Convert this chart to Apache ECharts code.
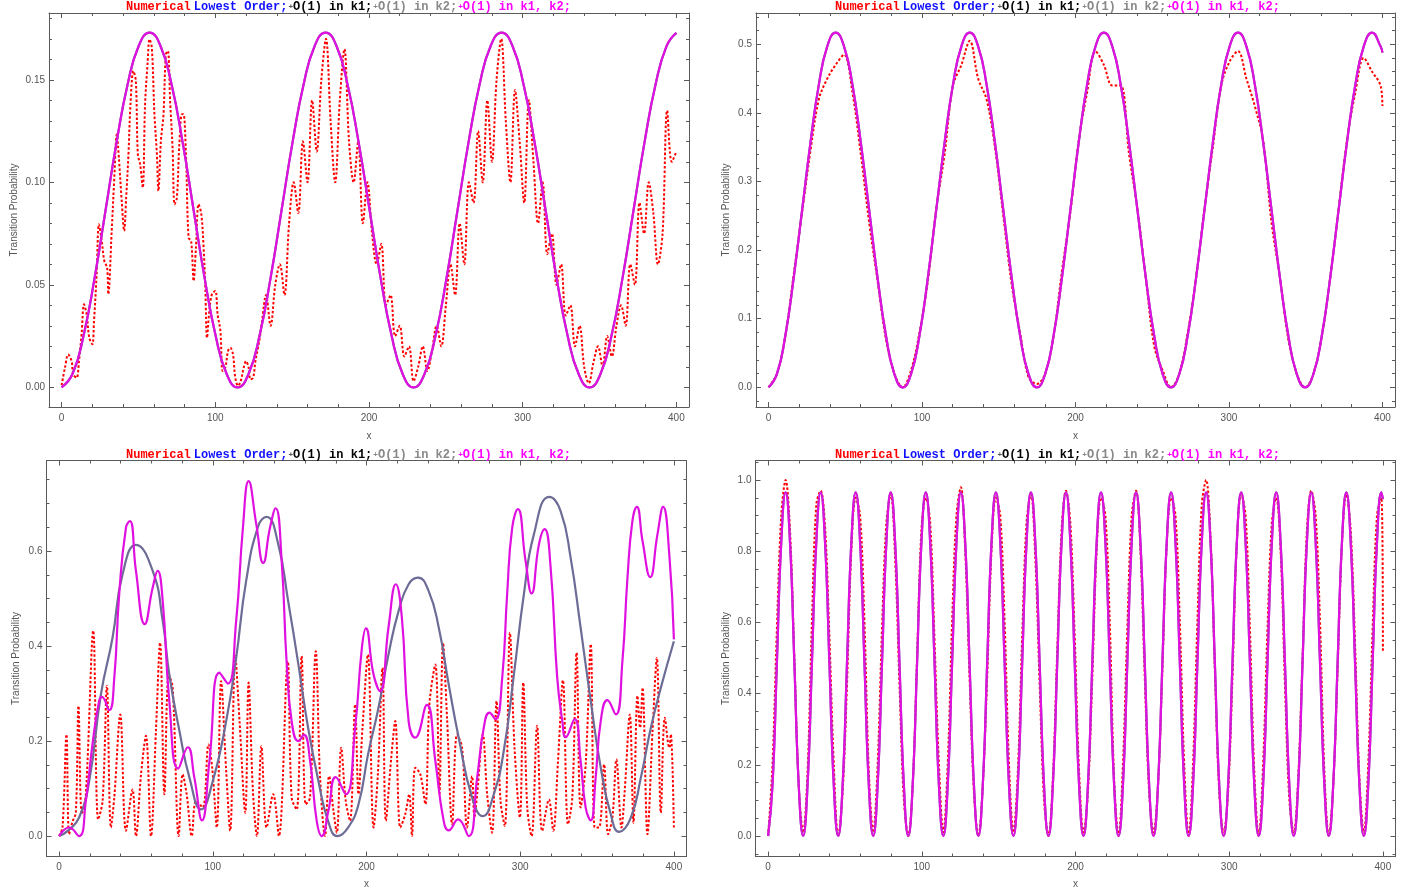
<!DOCTYPE html>
<html>
<head>
<meta charset="utf-8">
<title>Transition Probability</title>
<script src="https://cdn.jsdelivr.net/npm/echarts@6.0.0/dist/echarts.min.js"></script>
</head>
<body style="margin:0; background:#fff">
<div id="main" style="width:1409px; height:896px"></div>
<script>
// ---------- tick values ----------
const xMajor = [0, 100, 200, 300, 400];
const xMinor = [20, 40, 60, 80, 120, 140, 160, 180, 220, 240, 260, 280, 320, 340, 360, 380];
const p1YMajor = [0, 0.05, 0.1, 0.15];
const p1YMinor = [0.01, 0.02, 0.03, 0.04, 0.06, 0.07, 0.08, 0.09, 0.11, 0.12, 0.13, 0.14, 0.16, 0.17, 0.18];
const p2YMajor = [0, 0.1, 0.2, 0.3, 0.4, 0.5];
const p2YMinor = [-0.02, 0.02, 0.04, 0.06, 0.08, 0.12, 0.14, 0.16, 0.18, 0.22, 0.24, 0.26, 0.28, 0.32, 0.34, 0.36, 0.38, 0.42, 0.44, 0.46, 0.48, 0.52, 0.54];
const p3YMajor = [0, 0.2, 0.4, 0.6];
const p3YMinor = [0.05, 0.1, 0.15, 0.25, 0.3, 0.35, 0.45, 0.5, 0.55, 0.65, 0.7, 0.75];
const p4YMajor = [0, 0.2, 0.4, 0.6, 0.8, 1.0];
const p4YMinor = [-0.05, 0.05, 0.1, 0.15, 0.25, 0.3, 0.35, 0.45, 0.5, 0.55, 0.65, 0.7, 0.75, 0.85, 0.9, 0.95, 1.05];

// ---------- panel 1 (top left) ----------
const p1X = [0, 7.16, 14.31, 21.47, 28.63, 35.78, 42.94, 50.09, 57.25, 64.41, 71.56, 78.72, 85.88, 93.03, 100.19, 107.34,
  114.5, 121.66, 128.81, 135.97, 143.13, 150.28, 157.44, 164.59, 171.75, 178.91, 186.06, 193.22, 200.38, 207.53, 214.69, 221.84,
  229, 236.16, 243.31, 250.47, 257.63, 264.78, 271.94, 279.09, 286.25, 293.41, 300.56, 307.72, 314.88, 322.03, 329.19, 336.34,
  343.5, 350.66, 357.81, 364.97, 372.13, 379.28, 386.44, 393.59, 400];
const p1Analytic = [0, .0066, .0253, .0534, .0865, .1196, .1477, .1664, .173, .1664, .1477, .1196, .0865, .0534, .0253, .0066,
  0, .0066, .0253, .0534, .0865, .1196, .1477, .1664, .173, .1664, .1477, .1196, .0865, .0534, .0253, .0066,
  0, .0066, .0253, .0534, .0865, .1196, .1477, .1664, .173, .1664, .1477, .1196, .0865, .0534, .0253, .0066,
  0, .0066, .0253, .0534, .0865, .1196, .1477, .1664, .1729];
const p1Numerical = [[0,0.001],[2.2,0.0096],[4.3,0.016],[6.5,0.0128],[7.6,0.0063],[9.8,0.0047],[11.3,0.0128],[13,0.0259],
  [14.6,0.0405],[16.3,0.0356],[18,0.0242],[20,0.021],[21.1,0.0324],[22.8,0.0551],[24.3,0.0795],[26.1,0.0714],[27.8,0.0616],
  [29.6,0.0584],[30.4,0.0454],[32.6,0.0763],[34.3,0.1023],[35.9,0.1234],[37.4,0.1104],[39.1,0.0909],[40.7,0.0763],[42,0.0925],
  [43.5,0.1137],[44.8,0.138],[46.7,0.1543],[48.3,0.1494],[49.6,0.1137],[51.1,0.1088],[52.8,0.0974],[54.3,0.138],[55.9,0.1576],
  [57.2,0.1698],[58.7,0.1657],[60.4,0.1332],[62,0.1137],[63,0.0958],[64.6,0.1202],[66.3,0.1332],[67.8,0.1624],[69.1,0.1641],
  [70.7,0.138],[72.2,0.1169],[73.5,0.0893],[75,0.0925],[76.5,0.1169],[78.3,0.1332],[79.3,0.1332],[80.9,0.1137],[82.6,0.073],
  [84.3,0.0714],[85.9,0.0519],[87.4,0.0681],[89.1,0.0893],[90.9,0.0844],[92.4,0.0681],[93.5,0.0486],[94.6,0.0242],[96.1,0.0372],
  [97.8,0.0454],[100,0.047],[101.5,0.0356],[103.3,0.0275],[104.8,0.008],[106.5,0.0096],[108.3,0.0177],[109.8,0.0193],[111.5,0.0161],
  [113,0.0047],[114.8,0.0007],[116.5,0.003],[118.5,0.0096],[120,0.0128],[121.7,0.0096],[122.8,0.0039],[124.6,0.0047],[126.1,0.0128],
  [127.8,0.0193],[129.3,0.0259],[130.4,0.0324],[133,0.045],[136,0.03],[139,0.05],[142,0.06],[145,0.045],[148,0.08],[151,0.1],
  [154,0.085],[157,0.12],[160,0.1],[163,0.14],[166,0.115],[169,0.15],[172,0.17],[175,0.13],[178,0.1],[181,0.14],[184,0.165],
  [187,0.12],[190,0.1],[193,0.12],[196,0.08],[199,0.1],[202,0.075],[205,0.06],[208,0.07],[211,0.04],[214,0.045],[217,0.025],
  [220,0.03],[223,0.015],[226,0.02],[229,0.003],[232,0.01],[235,0.02],[238,0.008],[241,0.018],[244,0.03],[247,0.02],[250,0.04],
  [253,0.06],[256,0.045],[259,0.08],[262,0.06],[265,0.1],[268,0.09],[271,0.125],[274,0.1],[277,0.14],[280,0.11],[283,0.15],
  [286,0.17],[289,0.13],[292,0.1],[295,0.145],[298,0.12],[301,0.09],[304,0.14],[307,0.11],[310,0.08],[313,0.1],[316,0.065],
  [319,0.075],[322,0.05],[325,0.06],[328,0.035],[331,0.04],[334,0.02],[337,0.03],[340,0.01],[343,0.002],[346,0.012],[349,0.02],
  [352,0.01],[355,0.025],[358,0.015],[361,0.03],[364,0.04],[367,0.03],[370,0.06],[373,0.05],[376,0.09],[379,0.075],[382,0.1],
  [385,0.085],[388,0.06],[391,0.075],[394,0.135],[397,0.11],[400,0.115]];

// ---------- panel 2 (top right) ----------
const p2X = [0, 5.46, 10.93, 16.39, 21.85, 27.31, 32.78, 38.24, 43.70, 49.16, 54.63, 60.09, 65.55, 71.01, 76.48, 81.94,
  87.40, 92.86, 98.33, 103.79, 109.25, 114.71, 120.18, 125.64, 131.10, 136.56, 142.03, 147.49, 152.95, 158.41, 163.88, 169.34,
  174.80, 180.26, 185.73, 191.19, 196.65, 202.11, 207.58, 213.04, 218.50, 223.96, 229.43, 234.89, 240.35, 245.81, 251.28, 256.74,
  262.20, 267.66, 273.13, 278.59, 284.05, 289.51, 294.98, 300.44, 305.90, 311.36, 316.83, 322.29, 327.75, 333.21, 338.68, 344.14,
  349.60, 355.06, 360.53, 365.99, 371.45, 376.91, 382.38, 387.84, 393.30, 398.76, 400];
const p2Analytic = [0, .0197, .0755, .160, .2585, .357, .4415, .497, .517, .497, .4415, .357, .2585, .160, .0755, .0197,
  0, .0197, .0755, .160, .2585, .357, .4415, .497, .517, .497, .4415, .357, .2585, .160, .0755, .0197,
  0, .0197, .0755, .160, .2585, .357, .4415, .497, .517, .497, .4415, .357, .2585, .160, .0755, .0197,
  0, .0197, .0755, .160, .2585, .357, .4415, .497, .517, .497, .4415, .357, .2585, .160, .0755, .0197,
  0, .0197, .0755, .160, .2585, .357, .4415, .497, .517, .497, .488];
const p2Numerical = [0, .02, .075, .165, .255, .345, .42, .45, .47, .485, .43, .34, .24, .155, .07, .02,
  0, .025, .08, .155, .26, .34, .44, .47, .505, .45, .42, .35, .25, .15, .08, .015,
  .005, .02, .075, .17, .255, .36, .43, .49, .47, .44, .44, .34, .26, .16, .06, .025,
  0, .02, .08, .16, .26, .35, .44, .475, .49, .45, .41, .36, .24, .16, .07, .02,
  0, .02, .075, .16, .26, .36, .43, .48, .46, .44, .41];

// ---------- panel 3 (bottom left) ----------
const p3LowestOrder = [[0,0],[6,0.012],[13,0.039],[19.6,0.116],[27.2,0.298],[34.8,0.418],[41.3,0.551],[50,0.613],[60.9,0.558],
  [67.4,0.453],[71.7,0.34],[78.3,0.221],[84.8,0.123],[92.4,0.056],[100,0.116],[108.7,0.242],[115.2,0.375],[121.7,0.537],
  [129.6,0.653],[135,0.672],[142.6,0.614],[149,0.495],[155.7,0.361],[162,0.228],[168.7,0.116],[175,0.032],[181,0],[188,0.018],
  [194.8,0.067],[201,0.172],[207.8,0.27],[214.3,0.382],[220.9,0.474],[227.4,0.53],[233.5,0.544],[240.4,0.516],[247,0.439],
  [253.5,0.319],[260,0.207],[268.7,0.081],[275.7,0.042],[282.8,0.088],[289.3,0.179],[295.9,0.34],[302.4,0.509],[308.9,0.635],
  [318.9,0.714],[326.3,0.684],[332.8,0.586],[339.3,0.439],[345.9,0.284],[352.4,0.144],[358.9,0.046],[364.3,0.009],[372,0.039],
  [378.5,0.123],[385,0.228],[391.5,0.312],[400,0.41]];
const p3FullOrder = [[0,0],[6.5,0.018],[13,0],[17.4,0.074],[21.7,0.193],[26,0.284],[27.8,0.293],[32.6,0.265],[35.9,0.333],
  [39.1,0.509],[43.5,0.649],[46.1,0.663],[50,0.558],[55.7,0.446],[60.9,0.523],[64.1,0.558],[67.4,0.495],[71.7,0.284],[77.5,0.142],
  [83.7,0.187],[88,0.123],[93,0.033],[97.8,0.158],[104.3,0.344],[109.8,0.321],[115.2,0.453],[119.6,0.649],[123.3,0.747],
  [128.3,0.656],[132.8,0.575],[137.2,0.649],[140.9,0.69],[144.8,0.579],[148,0.368],[151.3,0.242],[155.7,0.2],[159.3,0.213],
  [163.3,0.158],[167.6,0.032],[170.9,0],[175.2,0.053],[180,0.124],[186.5,0.088],[192.6,0.228],[197,0.396],[199.6,0.437],
  [204.6,0.34],[208.9,0.305],[214.3,0.439],[219.1,0.53],[223,0.46],[227.4,0.242],[231.7,0.207],[239.3,0.276],[244.8,0.158],
  [250.2,0.032],[253.5,0.012],[259.6,0.035],[266.5,0],[272,0.123],[276.3,0.228],[280,0.26],[283.9,0.246],[288.3,0.333],
  [291.5,0.509],[294.8,0.649],[298.5,0.688],[303.5,0.579],[307.4,0.511],[312.2,0.614],[315.9,0.646],[319.8,0.565],[324.1,0.333],
  [327.4,0.242],[329.6,0.208],[335.4,0.246],[339.3,0.158],[342.6,0.06],[345.9,0.033],[349.1,0.123],[352.4,0.242],[356.7,0.286],
  [362.2,0.256],[366.5,0.368],[369.8,0.544],[373,0.663],[375.9,0.693],[379.6,0.621],[384.6,0.545],[389.3,0.635],[393,0.693],
  [397,0.593],[400,0.414]];
const p3Numerical = [[0,0],[2.2,0.018],[4.8,0.214],[6.5,0.004],[8.7,0.03],[10.9,0.05],[12.6,0.274],[14.8,0.046],[17.4,0.088],
  [22.2,0.432],[25.4,0.035],[28.3,0.074],[31.1,0.316],[33.7,0.018],[35.9,0.081],[39.8,0.256],[43.5,0.011],[47.8,0.098],[50,0],
  [53.3,0.13],[56.5,0.211],[59.8,0],[63,0.221],[65.7,0.407],[68.5,0.088],[71.3,0.34],[73.9,0.312],[77.8,0],[80.4,0.13],[83,0.088],
  [86.3,0],[89.1,0.074],[93.5,0.06],[97.2,0.193],[99.6,0.144],[102.6,0.018],[105.4,0.326],[108.7,0.137],[111.3,0.011],[114.6,0.379],
  [117.4,0.242],[121.1,0.049],[123.3,0.323],[126.1,0.095],[128.7,0],[131.6,0.189],[135,0.018],[139.3,0.088],[143,0],[148.7,0.368],
  [151.3,0.081],[154.6,0.056],[157.8,0.379],[160.4,0.067],[163.3,0.081],[167,0.389],[169.8,0.123],[173,0],[175.7,0.126],[178.5,0.053],
  [180.7,0.007],[183.5,0.186],[186.5,0.074],[189.3,0.032],[192.6,0.277],[194.8,0.088],[197.4,0.228],[200.9,0.382],[204.6,0.018],
  [207.4,0.13],[210.4,0.354],[212.6,0.032],[216.1,0.165],[218.7,0.242],[222,0.018],[225.2,0.046],[227.8,0.088],[229.6,0],
  [231.7,0.144],[235,0.13],[238.3,0.067],[240.9,0.277],[244.8,0.361],[247.4,0.088],[249.8,0.407],[252.4,0.249],[255.7,0.025],
  [258.9,0.214],[262.2,0.186],[265.4,0.018],[268.7,0.126],[270.2,0.039],[272,0.088],[275.7,0.214],[278.5,0.088],[281.7,0.007],
  [284.6,0.284],[287.2,0.074],[290,0.021],[293.3,0.428],[296.3,0.186],[299.8,0.039],[302,0.323],[304.6,0.06],[307.4,0],[311,0.232],
  [314.3,0.011],[318.7,0.077],[321.5,0.011],[324.6,0.158],[327.8,0.328],[331.1,0.025],[333.9,0.081],[336.7,0.386],[339.3,0.06],
  [342.6,0.151],[345.9,0.404],[348.5,0.018],[351.3,0.018],[354.6,0.151],[357.2,0.004],[360,0.039],[362.6,0.161],[365.9,0.018],
  [368,0.095],[371.3,0.256],[373.7,0.028],[376.3,0.295],[378,0.228],[379.6,0.312],[382.8,0.004],[386.1,0.221],[388.9,0.375],
  [391.5,0.049],[394.1,0.249],[397,0.186],[398,0.214],[400,0.018]];

// ---------- panel 4 (bottom right) ----------
const p4X = [0, 2.85, 5.7, 8.55, 11.4, 14.25, 17.1, 19.95, 22.8, 25.65, 28.5, 31.35, 34.2, 37.05, 39.9, 42.75,
  45.6, 48.45, 51.3, 54.15, 57, 59.85, 62.7, 65.55, 68.4, 71.25, 74.1, 76.95, 79.8, 82.65, 85.5, 88.35,
  91.2, 94.05, 96.9, 99.75, 102.6, 105.45, 108.3, 111.15, 114, 116.85, 119.7, 122.55, 125.4, 128.25, 131.1, 133.95,
  136.8, 139.65, 142.5, 145.35, 148.2, 151.05, 153.9, 156.75, 159.6, 162.45, 165.3, 168.15, 171, 173.85, 176.7, 179.55,
  182.4, 185.25, 188.1, 190.95, 193.8, 196.65, 199.5, 202.35, 205.2, 208.05, 210.9, 213.75, 216.6, 219.45, 222.3, 225.15,
  228, 230.85, 233.7, 236.55, 239.4, 242.25, 245.1, 247.95, 250.8, 253.65, 256.5, 259.35, 262.2, 265.05, 267.9, 270.75,
  273.6, 276.45, 279.3, 282.15, 285, 287.85, 290.7, 293.55, 296.4, 299.25, 302.1, 304.95, 307.8, 310.65, 313.5, 316.35,
  319.2, 322.05, 324.9, 327.75, 330.6, 333.45, 336.3, 339.15, 342, 344.85, 347.7, 350.55, 353.4, 356.25, 359.1, 361.95,
  364.8, 367.65, 370.5, 373.35, 376.2, 379.05, 381.9, 384.75, 387.6, 390.45, 393.3, 396.15, 399, 400];
const p4Analytic = [0, .141, .483, .824, .965, .824, .483, .141, 0, .141, .483, .824, .965, .824, .483, .141,
  0, .141, .483, .824, .965, .824, .483, .141, 0, .141, .483, .824, .965, .824, .483, .141,
  0, .141, .483, .824, .965, .824, .483, .141, 0, .141, .483, .824, .965, .824, .483, .141,
  0, .141, .483, .824, .965, .824, .483, .141, 0, .141, .483, .824, .965, .824, .483, .141,
  0, .141, .483, .824, .965, .824, .483, .141, 0, .141, .483, .824, .965, .824, .483, .141,
  0, .141, .483, .824, .965, .824, .483, .141, 0, .141, .483, .824, .965, .824, .483, .141,
  0, .141, .483, .824, .965, .824, .483, .141, 0, .141, .483, .824, .965, .824, .483, .141,
  0, .141, .483, .824, .965, .824, .483, .141, 0, .141, .483, .824, .965, .824, .483, .141,
  0, .141, .483, .824, .965, .824, .483, .141, 0, .141, .483, .824, .965, .946];
const p4Numerical = [0, .20, .58, .90, 1.0, .86, .50, .14, .01, .18, .60, .93, .97, .87, .56, .20,
  0, .12, .42, .80, .95, .90, .60, .18, .01, .20, .58, .88, .96, .78, .42, .10,
  0, .14, .50, .86, .95, .88, .55, .20, .01, .20, .60, .90, .98, .80, .44, .12,
  0, .14, .44, .80, .95, .90, .60, .20, .01, .18, .56, .88, .96, .78, .42, .10,
  0, .16, .52, .86, .97, .88, .56, .18, .01, .12, .44, .80, .95, .90, .60, .16,
  0, .20, .58, .90, .97, .80, .44, .12, .01, .14, .46, .82, .95, .90, .60, .20,
  0, .20, .60, .93, 1.0, .84, .46, .12, .01, .12, .44, .82, .96, .90, .58, .18,
  0, .20, .58, .88, .95, .80, .42, .10, .01, .16, .50, .86, .97, .90, .60, .18,
  0, .14, .46, .82, .96, .86, .54, .16, .01, .20, .58, .90, .95, .52];

// ---------- styling ----------
const frameColor = '#5a5a5a';
const labelColor = '#555555';
const sansFont = 'Liberation Sans, Arial, sans-serif';
const monoFont = 'Liberation Mono, Courier New, monospace';
const redColor = '#ff0000';
const grayCurve = '#6c6c96';
const magenta = '#e010e0';

const zip = (xs, ys) => xs.map((x, i) => [x, ys[i]]);

const panels = [
  { left: 49, top: 13, width: 640, height: 394, yMin: -0.0096, yMax: 0.1826, yMajor: p1YMajor, yMinor: p1YMinor, digits: 2,
    yGap: 30, xGap: 24, titleLeft: 126, titleTop: 0,
    red: p1Numerical, low: zip(p1X, p1Analytic), full: zip(p1X, p1Analytic) },
  { left: 756, top: 13, width: 639, height: 394, yMin: -0.0287, yMax: 0.5456, yMajor: p2YMajor, yMinor: p2YMinor, digits: 1,
    yGap: 25, xGap: 24, titleLeft: 835, titleTop: 0,
    red: zip(p2X, p2Numerical), low: zip(p2X, p2Analytic), full: zip(p2X, p2Analytic) },
  { left: 46.5, top: 460.5, width: 640, height: 396, yMin: -0.043, yMax: 0.7905, yMajor: p3YMajor, yMinor: p3YMinor, digits: 1,
    yGap: 25.5, xGap: 22.5, titleLeft: 126, titleTop: 448,
    red: p3Numerical, low: p3LowestOrder, full: p3FullOrder },
  { left: 755.5, top: 460.5, width: 640, height: 396, yMin: -0.0576, yMax: 1.0548, yMajor: p4YMajor, yMinor: p4YMinor, digits: 1,
    yGap: 24.5, xGap: 22.5, titleLeft: 835, titleTop: 448,
    red: zip(p4X, p4Numerical), low: zip(p4X, p4Analytic), full: zip(p4X, p4Analytic) }
];

const titleText = '{r|Numerical}{b|Lowest Order;}{sk|+}{k|O(1) in k1;}{sg|+}{g|O(1) in k2;}{sm|+}{m|O(1) in k1, k2;}';
const titleRich = {
  r: { color: '#ff0000', fontFamily: monoFont, fontSize: 12, padding: [0, 3, 0, 0] },
  b: { color: '#1010ff', fontFamily: monoFont, fontSize: 12 },
  sk: { color: '#555555', fontFamily: sansFont, fontSize: 8, padding: [0, 0, 0, 1] },
  k: { color: '#000000', fontFamily: monoFont, fontSize: 12 },
  sg: { color: '#888888', fontFamily: sansFont, fontSize: 8, padding: [0, 0, 0, 1] },
  g: { color: '#888888', fontFamily: monoFont, fontSize: 12 },
  sm: { color: '#ff00ff', fontFamily: sansFont, fontSize: 8, padding: [0, 0, 0, 1] },
  m: { color: '#ff00ff', fontFamily: monoFont, fontSize: 12 }
};

function axis(dim, p, gridIndex, position, major) {
  const isX = dim === 'x';
  const labelled = major && (position === 'bottom' || position === 'left');
  const ticks = major ? (isX ? xMajor : p.yMajor) : (isX ? xMinor : p.yMinor);
  return {
    type: 'value',
    gridIndex: gridIndex,
    position: position,
    min: isX ? -8.2 : p.yMin,
    max: isX ? 408.2 : p.yMax,
    silent: true,
    axisLine: { show: major, onZero: false, lineStyle: { color: frameColor, width: 1 } },
    axisTick: { show: true, inside: true, length: major ? 5 : 3, customValues: ticks,
      lineStyle: { color: frameColor, width: 1 } },
    axisLabel: labelled ? {
      show: true, customValues: ticks, color: labelColor, fontFamily: sansFont, fontSize: 10, margin: isX ? 6 : 4,
      formatter: v => isX ? String(v) : Number(v).toFixed(p.digits)
    } : { show: false },
    splitLine: { show: false },
    name: labelled ? (isX ? 'x' : 'Transition Probability') : '',
    nameLocation: 'middle',
    nameGap: isX ? p.xGap : p.yGap,
    nameTextStyle: { color: labelColor, fontFamily: sansFont, fontSize: 10 }
  };
}

const grid = [], xAxis = [], yAxis = [], series = [], title = [];
panels.forEach((p, i) => {
  const rect = { left: p.left, top: p.top, width: p.width, height: p.height, containLabel: false };
  grid.push(Object.assign({}, rect), Object.assign({}, rect));
  xAxis.push(axis('x', p, 2 * i, 'bottom', true), axis('x', p, 2 * i, 'top', true),
             axis('x', p, 2 * i + 1, 'bottom', false), axis('x', p, 2 * i + 1, 'top', false));
  yAxis.push(axis('y', p, 2 * i, 'left', true), axis('y', p, 2 * i, 'right', true),
             axis('y', p, 2 * i + 1, 'left', false), axis('y', p, 2 * i + 1, 'right', false));
  title.push({ text: titleText, left: p.titleLeft, top: p.titleTop, padding: 0,
    textStyle: { rich: titleRich, fontFamily: monoFont, fontSize: 12, lineHeight: 14 } });
  const base = { type: 'line', xAxisIndex: 4 * i, yAxisIndex: 4 * i, showSymbol: false, silent: true, clip: true };
  series.push(
    Object.assign({}, base, { name: 'Numerical', data: p.red, smooth: 0.35, z: 2,
      lineStyle: { color: redColor, width: 2, type: [2.5, 2] } }),
    Object.assign({}, base, { name: 'Lowest Order', data: p.low, smooth: 0.5, z: 3,
      lineStyle: { color: grayCurve, width: 2.2 } }),
    Object.assign({}, base, { name: '+O(1) in k1, k2', data: p.full, smooth: 0.5, z: 4,
      lineStyle: { color: magenta, width: 2.2 } })
  );
});

const chart = echarts.init(document.getElementById('main'), null, { renderer: 'canvas' });
chart.setOption({
  backgroundColor: '#ffffff',
  animation: false,
  title: title,
  grid: grid,
  xAxis: xAxis,
  yAxis: yAxis,
  series: series
});
</script>
</body>
</html>
